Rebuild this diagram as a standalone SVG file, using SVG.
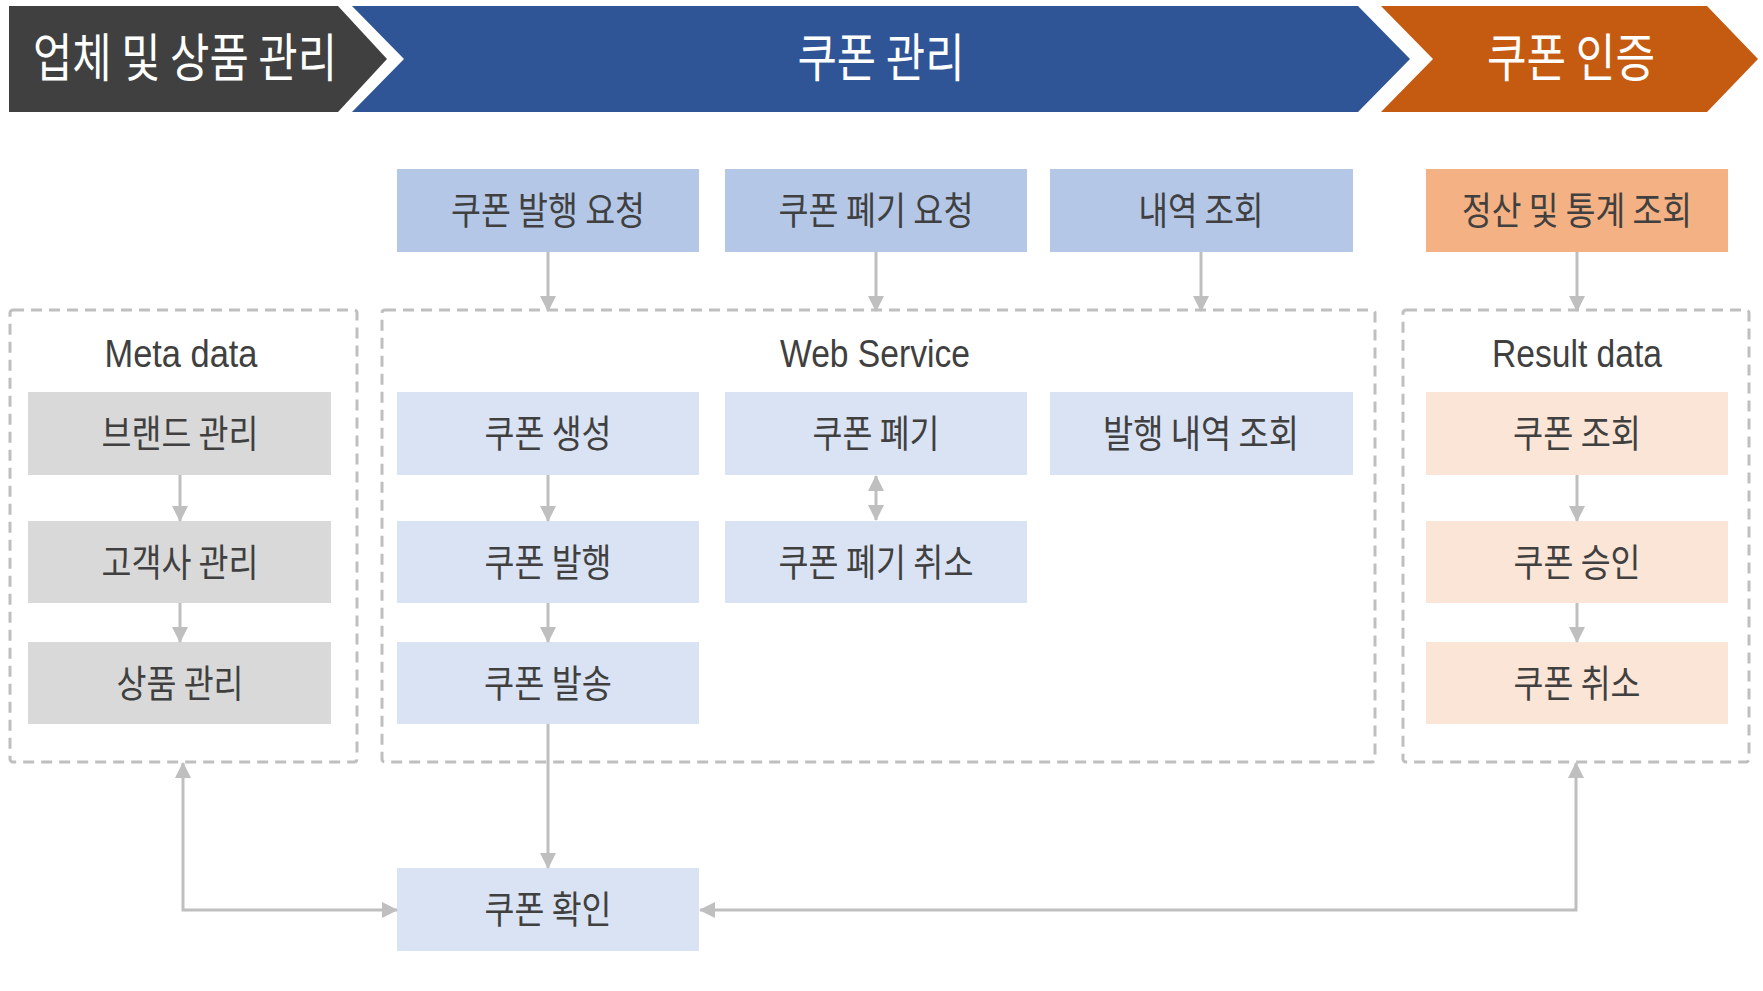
<svg xmlns="http://www.w3.org/2000/svg" width="1763" height="991" viewBox="0 0 1763 991">
<style>
.hdr{font-family:"Noto Sans CJK KR","Noto Sans",sans-serif;font-size:52px;fill:#ffffff;text-anchor:middle}
.lbl{font-family:"Noto Sans CJK KR","Noto Sans",sans-serif;font-size:38px;fill:#404040;text-anchor:middle}
.ttl{font-family:"Liberation Sans","Noto Sans CJK KR",sans-serif;font-size:38px;fill:#404040;text-anchor:middle}
.grp{fill:none;stroke:#BFBFBF;stroke-width:3;stroke-dasharray:11 7}
.req{fill:#B4C7E7}
.web{fill:#DAE3F3}
.meta{fill:#D9D9D9}
.oreq{fill:#F4B183}
.res{fill:#FBE5D6}
.con{fill:none;stroke:#BFBFBF;stroke-width:3}
</style>
<defs>
<marker id="ah" viewBox="0 0 16 16" refX="15" refY="8" markerWidth="16" markerHeight="16" markerUnits="userSpaceOnUse" orient="auto-start-reverse">
<path d="M0,0 L16,8 L0,16 Z" fill="#BFBFBF"/>
</marker>
</defs>
<rect width="1763" height="991" fill="#ffffff"/>

<g id="phase-vendor">
<polygon points="9,6 338,6 387,59 338,112 9,112" fill="#404040"/>
<text class="hdr" x="185" y="77" textLength="304" lengthAdjust="spacingAndGlyphs">업체 및 상품 관리</text>
</g>
<g id="phase-coupon">
<polygon points="352,6 1358,6 1410,59 1358,112 352,112 404,59" fill="#2F5597"/>
<text class="hdr" x="881" y="77" textLength="167" lengthAdjust="spacingAndGlyphs">쿠폰 관리</text>
</g>
<g id="phase-auth">
<polygon points="1381,6 1707,6 1758,59 1707,112 1381,112 1433,59" fill="#C55A11"/>
<text class="hdr" x="1571" y="77" textLength="168" lengthAdjust="spacingAndGlyphs">쿠폰 인증</text>
</g>

<g id="group-meta">
<rect class="grp" x="10" y="310" width="347" height="452" rx="3"/>
<text class="ttl" x="181" y="367" textLength="153" lengthAdjust="spacingAndGlyphs">Meta data</text>
</g>
<g id="group-web">
<rect class="grp" x="382" y="310" width="993" height="452" rx="3"/>
<text class="ttl" x="875" y="367" textLength="190" lengthAdjust="spacingAndGlyphs">Web Service</text>
</g>
<g id="group-result">
<rect class="grp" x="1403" y="310" width="346" height="452" rx="3"/>
<text class="ttl" x="1577" y="367" textLength="170" lengthAdjust="spacingAndGlyphs">Result data</text>
</g>

<g id="req-issue"><rect class="req" x="397" y="169" width="302" height="83"/><text class="lbl" x="548" y="224" textLength="194" lengthAdjust="spacingAndGlyphs">쿠폰 발행 요청</text></g>
<g id="req-discard"><rect class="req" x="725" y="169" width="302" height="83"/><text class="lbl" x="876" y="224" textLength="195" lengthAdjust="spacingAndGlyphs">쿠폰 폐기 요청</text></g>
<g id="req-history"><rect class="req" x="1050" y="169" width="303" height="83"/><text class="lbl" x="1201" y="224" textLength="125" lengthAdjust="spacingAndGlyphs">내역 조회</text></g>
<g id="req-settle"><rect class="oreq" x="1426" y="169" width="302" height="83"/><text class="lbl" x="1577" y="224" textLength="230" lengthAdjust="spacingAndGlyphs">정산 및 통계 조회</text></g>

<g id="meta-brand"><rect class="meta" x="28" y="392" width="303" height="83"/><text class="lbl" x="180" y="447" textLength="157" lengthAdjust="spacingAndGlyphs">브랜드 관리</text></g>
<g id="meta-customer"><rect class="meta" x="28" y="521" width="303" height="82"/><text class="lbl" x="180" y="576" textLength="157" lengthAdjust="spacingAndGlyphs">고객사 관리</text></g>
<g id="meta-product"><rect class="meta" x="28" y="642" width="303" height="82"/><text class="lbl" x="180" y="697" textLength="127" lengthAdjust="spacingAndGlyphs">상품 관리</text></g>

<g id="web-create"><rect class="web" x="397" y="392" width="302" height="83"/><text class="lbl" x="548" y="447" textLength="127" lengthAdjust="spacingAndGlyphs">쿠폰 생성</text></g>
<g id="web-issue"><rect class="web" x="397" y="521" width="302" height="82"/><text class="lbl" x="548" y="576" textLength="127" lengthAdjust="spacingAndGlyphs">쿠폰 발행</text></g>
<g id="web-send"><rect class="web" x="397" y="642" width="302" height="82"/><text class="lbl" x="548" y="697" textLength="128" lengthAdjust="spacingAndGlyphs">쿠폰 발송</text></g>
<g id="web-discard"><rect class="web" x="725" y="392" width="302" height="83"/><text class="lbl" x="876" y="447" textLength="127" lengthAdjust="spacingAndGlyphs">쿠폰 폐기</text></g>
<g id="web-discard-cancel"><rect class="web" x="725" y="521" width="302" height="82"/><text class="lbl" x="876" y="576" textLength="195" lengthAdjust="spacingAndGlyphs">쿠폰 폐기 취소</text></g>
<g id="web-history"><rect class="web" x="1050" y="392" width="303" height="83"/><text class="lbl" x="1201" y="447" textLength="196" lengthAdjust="spacingAndGlyphs">발행 내역 조회</text></g>

<g id="res-query"><rect class="res" x="1426" y="392" width="302" height="83"/><text class="lbl" x="1577" y="447" textLength="128" lengthAdjust="spacingAndGlyphs">쿠폰 조회</text></g>
<g id="res-approve"><rect class="res" x="1426" y="521" width="302" height="82"/><text class="lbl" x="1577" y="576" textLength="127" lengthAdjust="spacingAndGlyphs">쿠폰 승인</text></g>
<g id="res-cancel"><rect class="res" x="1426" y="642" width="302" height="82"/><text class="lbl" x="1577" y="697" textLength="127" lengthAdjust="spacingAndGlyphs">쿠폰 취소</text></g>

<g id="confirm"><rect class="web" x="397" y="868" width="302" height="83"/><text class="lbl" x="548" y="923" textLength="127" lengthAdjust="spacingAndGlyphs">쿠폰 확인</text></g>

<g id="connectors">
<path class="con" d="M548,252 V311" marker-end="url(#ah)"/>
<path class="con" d="M876,252 V311" marker-end="url(#ah)"/>
<path class="con" d="M1201,252 V311" marker-end="url(#ah)"/>
<path class="con" d="M1577,252 V311" marker-end="url(#ah)"/>
<path class="con" d="M180,475 V521" marker-end="url(#ah)"/>
<path class="con" d="M180,603 V642" marker-end="url(#ah)"/>
<path class="con" d="M548,475 V521" marker-end="url(#ah)"/>
<path class="con" d="M548,603 V642" marker-end="url(#ah)"/>
<path class="con" d="M876,476 V520" marker-start="url(#ah)" marker-end="url(#ah)"/>
<path class="con" d="M1577,475 V521" marker-end="url(#ah)"/>
<path class="con" d="M1577,603 V642" marker-end="url(#ah)"/>
<path class="con" d="M548,724 V868" marker-end="url(#ah)"/>
<path class="con" d="M183,763 V910 H397" marker-start="url(#ah)" marker-end="url(#ah)"/>
<path class="con" d="M1576,763 V910 H700" marker-start="url(#ah)" marker-end="url(#ah)"/>
</g>
</svg>
